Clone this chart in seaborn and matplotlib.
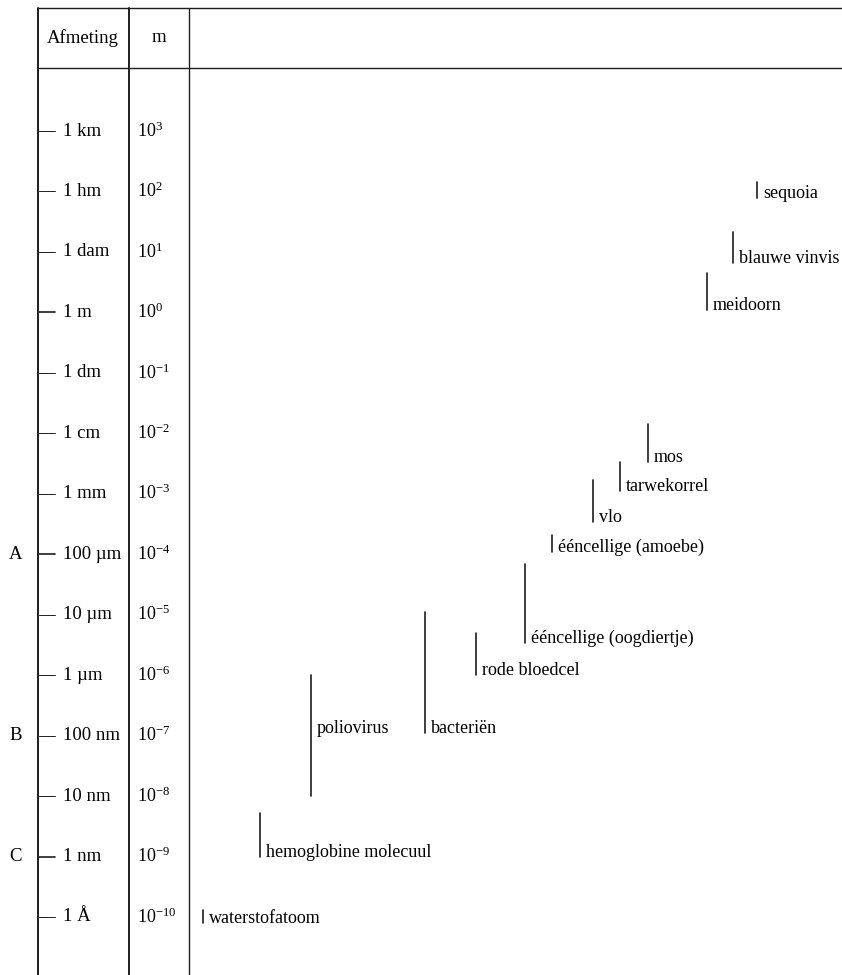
import matplotlib.pyplot as plt
import pandas as pd
import seaborn as sns
from matplotlib.lines import Line2D

# Scale (left columns)
scale_exp = [3, 2, 1, 0, -1, -2, -3, -4, -5, -6, -7, -8, -9, -10]
scale_names = ['1 km', '1 hm', '1 dam', '1 m', '1 dm', '1 cm', '1 mm',
               '100 µm', '10 µm', '1 µm', '100 nm', '10 nm', '1 nm', '1 Å']
marks = {'A': -4, 'B': -7, 'C': -9}

# Objects: size range in metres, where the label sits
names = ['waterstofatoom', 'hemoglobine molecuul', 'poliovirus', 'bacteriën',
         'rode bloedcel', 'ééncellige (oogdiertje)', 'ééncellige (amoebe)',
         'vlo', 'tarwekorrel', 'mos', 'meidoorn', 'blauwe vinvis', 'sequoia']
size_min = [0.8e-10, 1.0e-9, 1.0e-8, 1.1e-7, 1.0e-6, 3.4e-6, 1.1e-4,
            3.4e-4, 1.1e-3, 3.4e-3, 1.1, 6.5, 78]
size_max = [1.3e-10, 5.2e-9, 1.0e-6, 1.1e-5, 5.0e-6, 7.0e-5, 2.1e-4,
            1.7e-3, 3.4e-3, 1.4e-2, 4.5, 21, 145]
label_at = [0.8e-10, 1.0e-9, 1.1e-7, 1.1e-7, 1.0e-6, 3.4e-6, 1.1e-4,
            3.4e-4, 1.1e-3, 3.4e-3, 1.1, 6.5, 78]
# horizontal slot of each object (figure pixels)
x_pos = [203, 260, 311, 425, 476, 525, 552, 593, 620, 648, 707, 733, 757]

W, H = 842, 975

sns.set_theme(style='white')
plt.rcParams['font.family'] = ['Liberation Serif', 'DejaVu Serif']
plt.rcParams['mathtext.fontset'] = 'custom'
plt.rcParams['mathtext.rm'] = 'Liberation Serif'

fig = plt.figure(figsize=(W / 100, H / 100), dpi=100)
ax = fig.add_axes([0, 0, 1, 1])
ax.set_yscale('log')

fs = 13
ink = '#1e1e1e'


def py(y):
    # pixel from top -> axes fraction
    return 1 - y / H


# object size ranges
df = pd.DataFrame({
    'name': names * 2,
    'x': x_pos * 2,
    'size': size_min + size_max,
})
sns.lineplot(data=df, x='x', y='size', units='name', estimator=None,
             sort=False, color=ink, lw=1.2, ax=ax)
ax.set_xlim(0, W)
ax.set_ylim(10 ** -10.96, 10 ** 5.167)
ax.axis('off')

for n, x, y in zip(names, x_pos, label_at):
    ax.text(x + 6, y, n, ha='left', va='baseline', fontsize=fs, color='black')

# table frame
tr = ax.get_xaxis_transform()
for (x0, y0, x1, y1, lw) in [(38, 8, W, 8, 1.0), (38, 68, W, 68, 1.0),
                             (38, 8, 38, H, 1.4), (129, 8, 129, H, 1.4),
                             (189, 8, 189, H, 1.0)]:
    ax.add_line(Line2D([x0, x1], [py(y0), py(y1)], color=ink, lw=lw,
                       transform=tr))

ax.text(83, py(38), 'Afmeting', transform=tr, ha='center', va='center',
        fontsize=fs + 0.5, color='black')
ax.text(159, py(38), 'm', transform=tr, ha='center', va='center',
        fontsize=fs + 0.5, color='black')

# scale ticks and labels
for e, lab in zip(scale_exp, scale_names):
    v = 10.0 ** e
    thick = e in (0, -4, -9)
    ax.plot([39, 55], [v, v], color=ink, lw=1.2 if thick else 0.7)
    ax.text(63, v, lab, ha='left', va='center', fontsize=fs + 0.5,
            color='black')
    ax.text(137, v, r'$\mathrm{10^{%d}}$' % e, ha='left', va='center',
            fontsize=fs, color='black')

for k, e in marks.items():
    ax.text(16, 10.0 ** e, k, ha='center', va='center', fontsize=fs + 0.5,
            color='black')

fig.savefig('out.png', dpi=100)
